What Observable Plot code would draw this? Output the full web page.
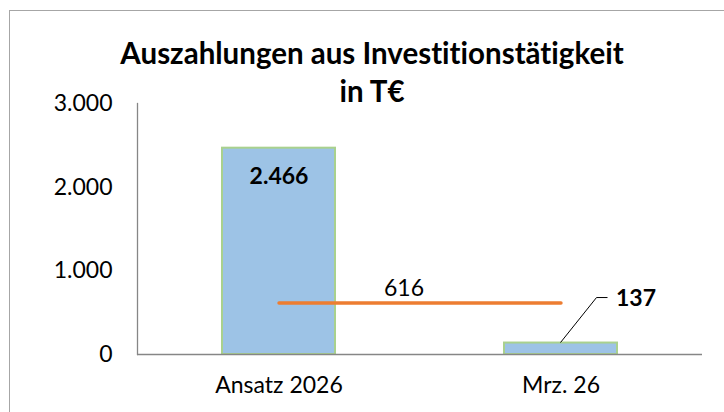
<!DOCTYPE html>
<html>
<head>
<meta charset="utf-8">
<script src="https://cdn.jsdelivr.net/npm/d3@7"></script>
<script src="https://cdn.jsdelivr.net/npm/@observablehq/plot@0.6"></script>
<style>
  html, body { margin: 0; padding: 0; background: #fff; }
  #wrap { position: relative; width: 724px; height: 412px; overflow: hidden; font-family: Lato, "Open Sans", sans-serif; font-variant-ligatures: none; }
  #border { position: absolute; left: 9px; top: 10px; width: 800px; height: 500px; border: 1.5px solid #a6a6a6; box-sizing: border-box; }
  #title { position: absolute; left: 0; top: 34px; width: 744px; text-align: center; font-weight: bold; font-size: 29.5px; line-height: 38px; color: #000; font-variant-ligatures: none; }
  #chart { position: absolute; left: 0; top: 0; }
  svg text { font-variant-ligatures: none; }
</style>
</head>
<body>
<div id="wrap">
  <div id="border"></div>
  <div id="chart"></div>
  <div id="title">Auszahlungen aus Investitionstätigkeit<br>in T€</div>
</div>
<script>
const categories = ["Ansatz 2026", "Mrz. 26"];
const values = [2466, 137];
const average = [616, 616];
const yTicks = [0, 1000, 2000, 3000];

const de = d3.formatLocale({decimal: ",", thousands: ".", grouping: [3], currency: ["", " €"]});
const fmt = de.format(",d");

const bars = categories.map((c, i) => ({cat: c, value: values[i]}));
const avg = categories.map((c, i) => ({cat: c, value: average[i]}));

const font = "Lato, 'Open Sans', sans-serif";

const plot = Plot.plot({
  width: 724,
  height: 412,
  marginLeft: 137,
  marginRight: 22,
  marginTop: 103,
  marginBottom: 58,
  style: {fontFamily: font, fontSize: "23px", color: "#000", background: "transparent"},
  x: {domain: categories, paddingInner: 0.6, paddingOuter: 0.3, label: null},
  y: {domain: [0, 3000], label: null},
  marks: [
    Plot.barY(bars, {x: "cat", y: "value", fill: "#9dc3e6", stroke: "#a9d18e", strokeWidth: 2}),
    Plot.ruleY([0], {stroke: "#868686", strokeWidth: 1.3}),
    Plot.frame({anchor: "left", stroke: "#868686", strokeWidth: 1.3}),
    Plot.axisY({ticks: yTicks, tickFormat: fmt, tickSize: 0, tickPadding: 25, fontSize: 23, fill: "#000"}),
    Plot.axisX({tickSize: 0, tickPadding: 22, fontSize: 23, fill: "#000"}),
    Plot.lineY(avg, {x: "cat", y: "value", stroke: "#ed7d31", strokeWidth: 3.4, strokeLinecap: "round"}),
    Plot.text(avg.slice(0, 1), {x: "cat", y: "value", text: d => fmt(d.value), dx: 125, dy: -14, fontSize: 23, fill: "#000"}),
    Plot.text(bars.slice(0, 1), {x: "cat", y: "value", text: d => fmt(d.value), dy: 28, fontSize: 23, fontWeight: "bold", fill: "#000"}),
    Plot.text(bars.slice(1), {x: "cat", y: "value", text: d => fmt(d.value), dx: 75, dy: -44, fontSize: 23, fontWeight: "bold", fill: "#000"})
  ]
});

// leader line for the small bar's label
const xs = plot.scale("x"), ys = plot.scale("y");
const cx = xs.apply(categories[1]) + xs.bandwidth / 2;
const cy = ys.apply(values[1]);
d3.select(plot).append("path")
  .attr("d", `M${cx},${cy}L${cx + 36},${cy - 45}L${cx + 47},${cy - 45}`)
  .attr("fill", "none").attr("stroke", "#000").attr("stroke-width", 1);

document.getElementById("chart").append(plot);
</script>
</body>
</html>
